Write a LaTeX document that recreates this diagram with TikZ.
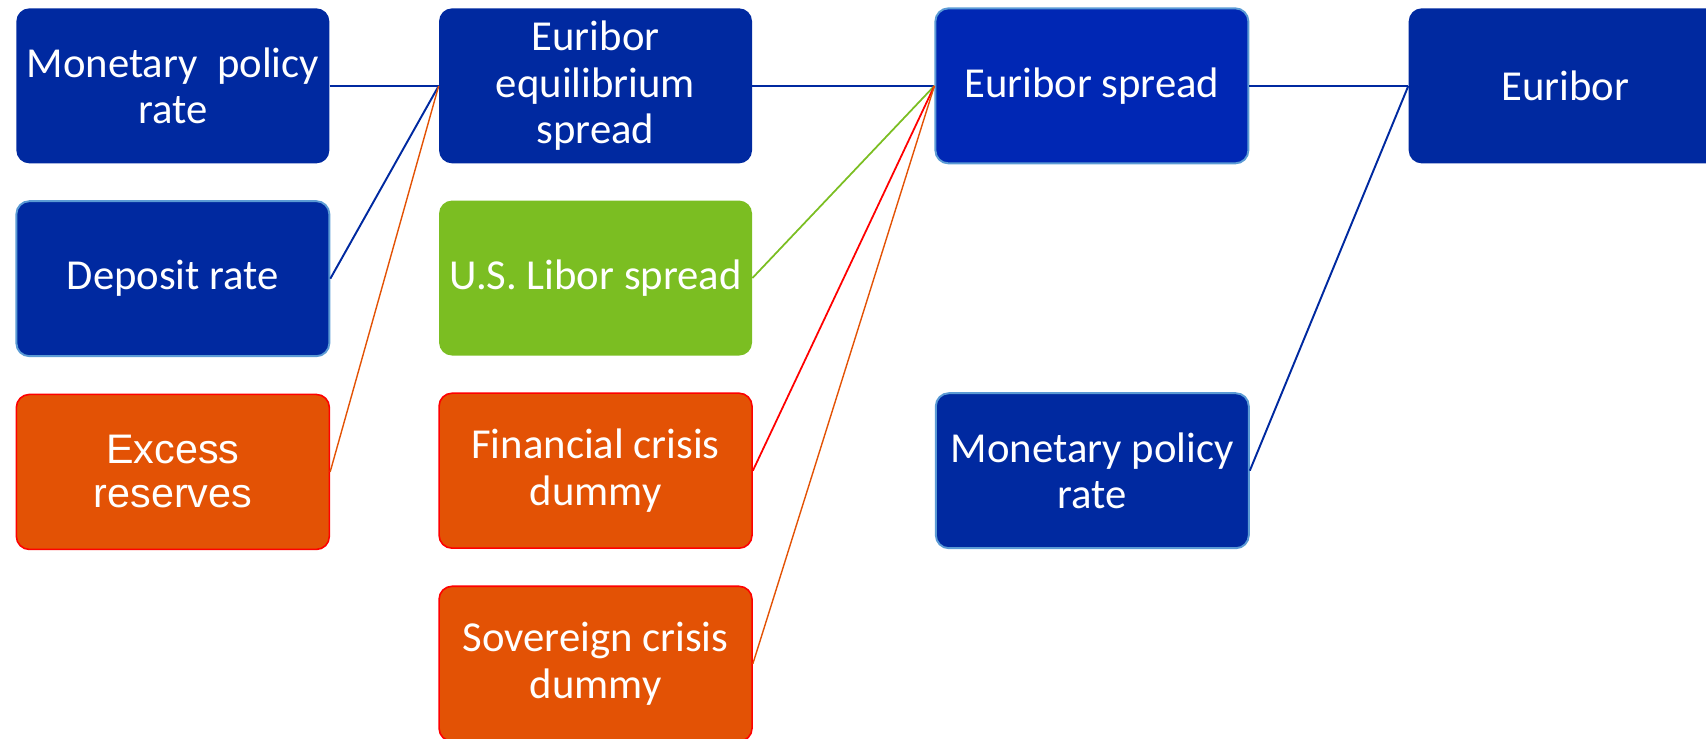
\documentclass[tikz,border=0pt]{standalone}
\usepackage{fontspec}
\setmainfont{Carlito}
\newfontfamily\arialfont{Liberation Sans}
\usetikzlibrary{positioning}

\definecolor{navy}{RGB}{0,41,160}
\definecolor{brightnavy}{RGB}{0,39,180}
\definecolor{paleblue}{RGB}{91,155,213}
\definecolor{lime}{RGB}{123,190,34}
\definecolor{rust}{RGB}{227,82,5}
\definecolor{signalred}{RGB}{255,0,0}

\begin{document}
\begin{tikzpicture}[
  node distance=0.73cm and 2.18cm,
  box/.style={rounded corners=0.26cm, minimum width=6.26cm, minimum height=3.1cm, align=center, text=white, font=\fontsize{24.3}{26.5}\selectfont},
  navybox/.style={box, fill=navy},
  rimbox/.style={box, fill=navy, draw=paleblue, line width=1.1pt},
  greenbox/.style={box, fill=lime},
  crisisbox/.style={box, fill=rust, draw=signalred, line width=0.9pt},
  link/.style={draw=navy, line width=1.1pt}
]
\useasboundingbox (0,0) rectangle (34.12,-14.78);
\clip (0,0) rectangle (34.12,-14.78);

% first column: policy instruments
\node[navybox, anchor=north west] (n1) at (0.32,-0.16) {Monetary\ \ policy\\rate};
\node[rimbox, below=of n1] (n2) {Deposit rate};
\node[crisisbox, below=of n2, font=\arialfont\fontsize{23.5}{25}\selectfont] (n3) {Excess\\reserves};

% second column
\node[navybox, right=of n1] (n4) {Euribor\\equilibrium\\spread};
\node[greenbox, below=of n4] (n5) {U.S. Libor spread};
\node[crisisbox, below=of n5] (n6) {Financial crisis\\dummy};
\node[crisisbox, below=of n6] (n7) {Sovereign crisis\\dummy};

% third and fourth column
\node[rimbox, fill=brightnavy, right=3.64cm of n4] (n8) {Euribor spread};
\node[rimbox, right=3.64cm of n6] (n9) {Monetary policy\\rate};
\node[navybox, right=3.18cm of n8] (n10) {Euribor};

\draw[link] (n1.east)--(n4.west); \draw[link] (n2.east)--(n4.west);
\draw[rust, line width=0.8pt] (n3.east)--(n4.west);
\draw[link] (n4.east)--(n8.west);
\draw[lime, line width=1pt] (n5.east)--(n8.west);
\draw[signalred, line width=1pt] (n6.east)--(n8.west);
\draw[rust, line width=0.8pt] (n7.east)--(n8.west);
\draw[link] (n8.east)--(n10.west); \draw[link] (n9.east)--(n10.west);
\end{tikzpicture}
\end{document}
